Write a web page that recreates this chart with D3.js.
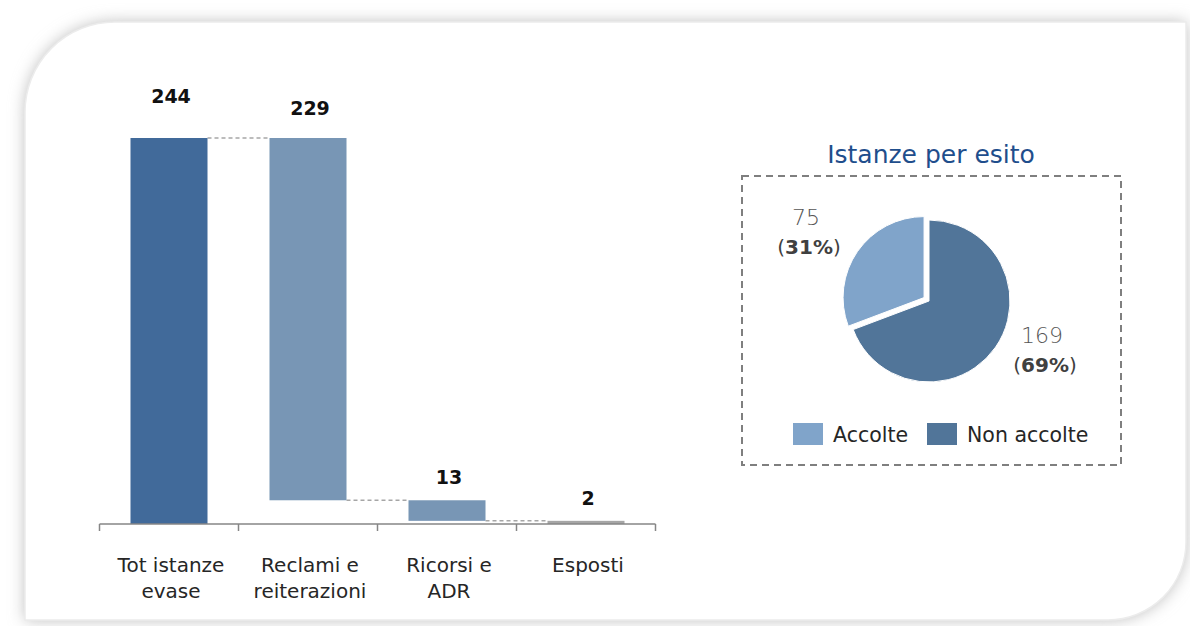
<!DOCTYPE html>
<html>
<head>
<meta charset="utf-8">
<script src="https://cdn.jsdelivr.net/npm/d3@7"></script>
<style>
  body { margin: 0; background: #fff; }
  svg { display: block; font-family: "DejaVu Sans", sans-serif; }
</style>
</head>
<body>
<svg id="chart" width="1190" height="626"></svg>
<script>
// waterfall data
var categories = ["Tot istanze evase", "Reclami e reiterazioni", "Ricorsi e ADR", "Esposti"];
var catLines = [["Tot istanze", "evase"], ["Reclami e", "reiterazioni"], ["Ricorsi e", "ADR"], ["Esposti"]];
var values = [244, 229, 13, 2];

// pie data
var pieLabels = ["Accolte", "Non accolte"];
var pieValues = [75, 169];
var piePct = ["31%", "69%"];

var svg = d3.select("#chart");

// background panel with soft grey halo
var defs = svg.append("defs");
var f = defs.append("filter").attr("id", "shadow")
    .attr("x", "-6%").attr("y", "-8%").attr("width", "112%").attr("height", "116%");
f.append("feGaussianBlur").attr("in", "SourceGraphic").attr("stdDeviation", 8);

var px0 = 25, py0 = 22, px1 = 1186, py1 = 620, r1 = 90, r2 = 78;
var panel = "M" + px0 + "," + (py0 + r1) +
  " A" + r1 + "," + r1 + " 0 0 1 " + (px0 + r1) + "," + py0 +
  " L" + px1 + "," + py0 +
  " L" + px1 + "," + (py1 - r2) +
  " A" + r2 + "," + r2 + " 0 0 1 " + (px1 - r2) + "," + py1 +
  " L" + px0 + "," + py1 + " Z";
svg.append("path").attr("d", panel)
  .attr("fill", "#bdbdbd")
  .attr("filter", "url(#shadow)");
svg.append("path").attr("d", panel).attr("fill", "#fff")
  .attr("stroke", "#ececec").attr("stroke-width", 1.5);

// ---- waterfall ----
var x = d3.scaleBand()
    .domain(categories)
    .range([99.5, 655.5])
    .paddingInner(0.446)
    .paddingOuter(0.223);

var y = d3.scaleLinear()
    .domain([0, 244])
    .range([524, 138]);

// build start/end for each bar
var steps = [];
var level = values[0];
steps.push({cat: categories[0], v: values[0], lo: 0, hi: values[0], total: true});
for (var i = 1; i < values.length; i++) {
  steps.push({cat: categories[i], v: values[i], lo: level - values[i], hi: level, total: false});
  level -= values[i];
}

var barColor = function(d, i) {
  if (d.total) return "#416a9a";
  if (i === values.length - 1) return "#a6a6a6";
  return "#7896b5";
};

var g = svg.append("g");

// connectors
for (var i = 0; i < steps.length - 1; i++) {
  var yy = steps[i].total ? steps[i].hi : steps[i].lo;
  g.append("line")
    .attr("x1", x(steps[i].cat) + x.bandwidth())
    .attr("x2", x(steps[i + 1].cat))
    .attr("y1", y(yy)).attr("y2", y(yy))
    .attr("stroke", "#a6a6a6")
    .attr("stroke-width", 1.5)
    .attr("stroke-dasharray", "4,3");
}

g.selectAll("rect.bar")
  .data(steps)
  .enter()
  .append("rect")
    .attr("class", "bar")
    .attr("x", function(d) { return x(d.cat); })
    .attr("y", function(d) { return y(d.hi); })
    .attr("width", x.bandwidth())
    .attr("height", function(d) { return Math.max(2.5, y(d.lo) - y(d.hi)); })
    .attr("fill", barColor);

// value labels
g.selectAll("text.val")
  .data(steps)
  .enter()
  .append("text")
    .attr("class", "val")
    .attr("x", function(d) { return x(d.cat) + x.bandwidth() / 2 + 2; })
    .attr("y", function(d) { return y(d.hi) - (d.total ? 35 : (d.v < 20 ? 16 : 23)); })
    .attr("text-anchor", "middle")
    .style("font-weight", "bold")
    .style("font-size", "19px")
    .attr("fill", "#111")
    .text(function(d) { return d.v; });

// axis line + ticks between categories
var step = x.step();
var tickX = categories.map(function(c) { return x(c) - step * x.paddingInner() / 2; });
tickX.push(tickX[tickX.length - 1] + step);
g.append("line")
  .attr("x1", tickX[0]).attr("x2", tickX[tickX.length - 1])
  .attr("y1", y(0)).attr("y2", y(0))
  .attr("stroke", "#868686").attr("stroke-width", 1.5);
g.selectAll("line.tick")
  .data(tickX)
  .enter()
  .append("line")
    .attr("class", "tick")
    .attr("x1", function(d) { return d; }).attr("x2", function(d) { return d; })
    .attr("y1", y(0)).attr("y2", y(0) + 7)
    .attr("stroke", "#868686").attr("stroke-width", 1.5);

// category labels
categories.forEach(function(c, i) {
  var t = g.append("text")
    .attr("x", x(c) + x.bandwidth() / 2 + 2)
    .attr("y", 572)
    .attr("text-anchor", "middle")
    .style("font-size", "20px")
    .attr("fill", "#262626");
  catLines[i].forEach(function(line, j) {
    t.append("tspan")
      .attr("x", x(c) + x.bandwidth() / 2 + 2)
      .attr("dy", j === 0 ? 0 : 26)
      .text(line);
  });
});

// ---- pie ----
var pieColors = d3.scaleOrdinal().domain(pieLabels).range(["#80a4ca", "#517599"]);

svg.append("text")
  .attr("x", 931).attr("y", 163)
  .attr("text-anchor", "middle")
  .style("font-size", "25px")
  .attr("fill", "#1f4e8c")
  .text("Istanze per esito");

svg.append("rect")
  .attr("x", 742).attr("y", 176)
  .attr("width", 379).attr("height", 289)
  .attr("fill", "none")
  .attr("stroke", "#7f7f7f")
  .attr("stroke-width", 2)
  .attr("stroke-dasharray", "7,5");

var cx = 929, cy = 301, radius = 81;
var pieData = pieLabels.map(function(l, i) { return {label: l, value: pieValues[i], pct: piePct[i]}; });
// Non accolte starts at 12 o'clock, clockwise; Accolte fills the rest
var arcs = d3.pie().sort(null).value(function(d) { return d.value; })
    .startAngle(2 * Math.PI * pieValues[1] / (pieValues[0] + pieValues[1]))
    .endAngle(2 * Math.PI * (1 + pieValues[1] / (pieValues[0] + pieValues[1])))(pieData);
var arcGen = d3.arc().innerRadius(0).outerRadius(radius);

var pg = svg.append("g").attr("transform", "translate(" + cx + "," + cy + ")");
pg.selectAll("path")
  .data(arcs)
  .enter()
  .append("path")
    .attr("d", arcGen)
    .attr("fill", function(d) { return pieColors(d.data.label); })
    .attr("stroke", "#fff")
    .attr("stroke-width", 1)
    .attr("transform", function(d) {
      if (d.data.label !== "Accolte") return null;
      var a = (d.startAngle + d.endAngle) / 2;
      return "translate(" + (Math.sin(a) * 6) + "," + (-Math.cos(a) * 6) + ")";
    });

// slice labels
var labelPos = {"Accolte": [807, 225], "Non accolte": [1043, 343]};
pieData.forEach(function(d) {
  var p = labelPos[d.label];
  var t = svg.append("text")
    .attr("x", p[0]).attr("y", p[1])
    .attr("text-anchor", "middle")
    .style("font-size", "22px")
    .attr("fill", "#555555")
    .style("font-weight", 200);
  t.append("tspan").attr("x", p[0] - 1).text(d.value);
  var t2 = svg.append("text")
    .attr("x", p[0] + 2).attr("y", p[1] + 29)
    .attr("text-anchor", "middle")
    .style("font-size", "20px")
    .attr("fill", "#404040");
  t2.append("tspan").text("(");
  t2.append("tspan").style("font-weight", "bold").text(d.pct);
  t2.append("tspan").text(")");
});

// legend
var legX = [793, 927];
pieLabels.forEach(function(l, i) {
  svg.append("rect")
    .attr("x", legX[i]).attr("y", 423)
    .attr("width", 30).attr("height", 22)
    .attr("fill", pieColors(l));
  svg.append("text")
    .attr("x", legX[i] + 40).attr("y", 442)
    .style("font-size", "20.5px")
    .attr("fill", "#262626")
    .text(l);
});
</script>
</body>
</html>
